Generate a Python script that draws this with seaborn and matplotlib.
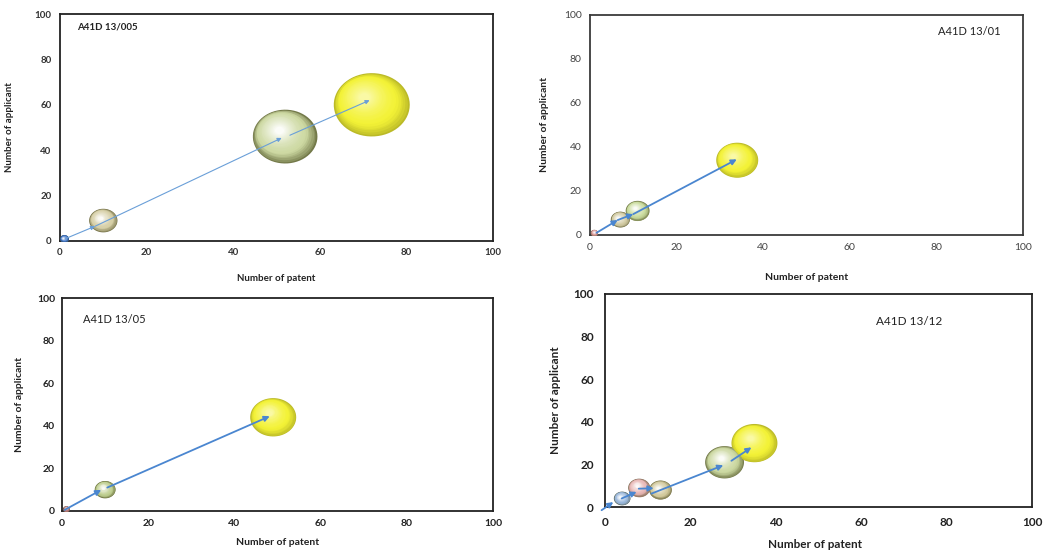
import numpy as np
import matplotlib
matplotlib.use("Agg")
import matplotlib.pyplot as plt
import seaborn as sns
import matplotlib.colors as mcolors
from matplotlib.path import Path
from matplotlib.transforms import ScaledTranslation

# ---------------- data ----------------
titles = ["A41D 13/005", "A41D 13/01", "A41D 13/05", "A41D 13/12"]
x_ticks = [0, 20, 40, 60, 80, 100]
y_ticks = [0, 20, 40, 60, 80, 100]
x_label = "Number of patent"
y_label = "Number of applicant"

# panel 1 : A41D 13/005
p1_patent = [1, 10, 52, 72]
p1_applicant = [1, 9, 46, 60]
p1_bubble = [1, 10, 52, 72]
p1_colors = ["#3f74c8", "#d6cfa6", "#cdd9a2", "#f3f236"]
p1_arrow_x0 = [1.2, 8.1, 53.1]
p1_arrow_y0 = [1.0, 6.5, 46.6]
p1_arrow_x1 = [8.1, 51.2, 71.5]
p1_arrow_y1 = [6.5, 45.4, 62.0]

# panel 2 : A41D 13/01
p2_patent = [1, 7, 11, 34]
p2_applicant = [1, 7, 11, 34]
p2_bubble = [1, 7, 11, 34]
p2_colors = ["#dc9a99", "#d3cca4", "#cadc9e", "#f3f236"]
p2_arrow_x0 = [1.5, 6.4, 10.0]
p2_arrow_y0 = [1.0, 6.8, 9.5]
p2_arrow_x1 = [6.4, 10.0, 33.9]
p2_arrow_y1 = [6.8, 9.5, 34.4]

# panel 3 : A41D 13/05
p3_patent = [1, 10, 49]
p3_applicant = [1, 10, 44]
p3_bubble = [1, 10, 49]
p3_colors = ["#b87a7a", "#bfcf90", "#f3f236"]
p3_arrow_x0 = [0.6, 10.5]
p3_arrow_y0 = [0.5, 11.0]
p3_arrow_x1 = [9.1, 48.2]
p3_arrow_y1 = [9.9, 44.5]

# panel 4 : A41D 13/12
p4_patent = [4, 8, 13, 28, 35]
p4_applicant = [4, 9, 8, 21, 30]
p4_bubble = [4.5, 8, 8.5, 25, 35]
p4_colors = ["#9ab8dc", "#e8b6b5", "#d2c99c", "#cbd8a0", "#f3f236"]
p4_arrow_x0 = [-0.8, 3.9, 7.9, 10.9, 29.6]
p4_arrow_y0 = [-1.5, 4.0, 8.6, 6.3, 21.7]
p4_arrow_x1 = [1.95, 7.4, 11.4, 27.7, 34.3]
p4_arrow_y1 = [2.3, 7.1, 8.8, 19.6, 28.0]

# ---------------- style ----------------
sns.set_style("white")
plt.rcParams["font.family"] = ["Lato", "DejaVu Sans"]

W, H = 1048, 552
fig = plt.figure(figsize=(W / 100, H / 100), dpi=100)


def frac(left, top, right, bottom):
    return [left / W, 1 - bottom / H, (right - left) / W, (bottom - top) / H]


panels = [
    dict(rect=frac(60, 14, 493, 241), x=p1_patent, y=p1_applicant, b=p1_bubble,
         c=p1_colors, ax0=p1_arrow_x0, ay0=p1_arrow_y0, ax1=p1_arrow_x1, ay1=p1_arrow_y1,
         k=41.6, alw=0.8, acol="#6a9fd8", ms=6,
         tick_fs=7, tick_w="bold", tick_c="#333333", lab_fs=7, lab_w="bold",
         xl=(0.5, -0.163), yl=(-0.1155, 0.5), title_xy=(0.039, 0.943), title_fs=7,
         title_w="bold", xpad=5, ypad=6, spine="#222222"),
    dict(rect=frac(590, 15, 1023, 235), x=p2_patent, y=p2_applicant, b=p2_bubble,
         c=p2_colors, ax0=p2_arrow_x0, ay0=p2_arrow_y0, ax1=p2_arrow_x1, ay1=p2_arrow_y1,
         k=26.9, alw=1.3, acol="#4a86d0", ms=8,
         tick_fs=7.5, tick_w="normal", tick_c="#444444", lab_fs=7.5, lab_w="bold",
         xl=(0.5, -0.191), yl=(-0.106, 0.5), title_xy=(0.803, 0.923), title_fs=8,
         title_w="normal", xpad=6, ypad=6, spine="#3a3a3a"),
    dict(rect=frac(62, 298, 493, 511), x=p3_patent, y=p3_applicant, b=p3_bubble,
         c=p3_colors, ax0=p3_arrow_x0, ay0=p3_arrow_y0, ax1=p3_arrow_x1, ay1=p3_arrow_y1,
         k=22.4, alw=1.3, acol="#4a86d0", ms=8,
         tick_fs=7.5, tick_w="bold", tick_c="#222222", lab_fs=7.5, lab_w="bold",
         xl=(0.5, -0.146), yl=(-0.0975, 0.5), title_xy=(0.049, 0.901), title_fs=8,
         title_w="normal", xpad=6, ypad=5, spine="#222222"),
    dict(rect=frac(605, 294, 1032, 507), x=p4_patent, y=p4_applicant, b=p4_bubble,
         c=p4_colors, ax0=p4_arrow_x0, ay0=p4_arrow_y0, ax1=p4_arrow_x1, ay1=p4_arrow_y1,
         k=31.3, alw=1.3, acol="#4a86d0", ms=8,
         tick_fs=8.5, tick_w="bold", tick_c="#222222", lab_fs=8.5, lab_w="bold",
         xl=(0.492, -0.178), yl=(-0.117, 0.5), title_xy=(0.635, 0.869), title_fs=8.5,
         title_w="normal", xpad=7, ypad=8, spine="#222222"),
]

# elliptical marker (bubbles are slightly stretched horizontally)
theta = np.linspace(0, 2 * np.pi, 64)
ell_marker = Path(np.column_stack([1.2 * np.cos(theta), np.sin(theta)]), closed=True)
ASPECT = 1.2


def blend(c1, c2, t):
    a = np.array(mcolors.to_rgb(c1))
    b = np.array(mcolors.to_rgb(c2))
    return tuple(np.clip(a + (b - a) * t, 0, 1))


def shade_params(color):
    r, g, b = mcolors.to_rgb(color)
    if r > 0.9 and g > 0.9 and b < 0.4:   # bright yellow
        return 0.28, 0.55
    return 0.55, 0.92


def shade_sphere(ax, x, y, s, color):
    base = mcolors.to_rgb(color)
    dk, lt = shade_params(color)
    dark = blend(base, "#2a2a00", dk)
    light = blend(base, "#ffffff", lt)
    wpt = np.sqrt(s)
    hpt = wpt / ASPECT
    n = 22
    ux, uy = -0.62, 0.78
    for i in range(1, n):
        t = i / (n - 1)
        f = 1 - 0.86 * t
        if t < 0.26:
            col = blend(dark, base, (t / 0.26) ** 0.8)
        else:
            col = blend(base, light, ((t - 0.26) / 0.74) ** 1.3)
        g = 0.92 - 0.55 * t
        d = (1 - f) * g
        dx = ux * d * wpt * 0.5
        dy = uy * d * hpt * 0.5
        tr = ax.transData + ScaledTranslation(dx / 72, dy / 72, fig.dpi_scale_trans)
        ax.scatter([x], [y], s=s * f * f, color=[col], marker=ell_marker,
                   linewidths=0, transform=tr, zorder=3 + i * 0.01)


for i, p in enumerate(panels):
    ax = fig.add_axes(p["rect"])
    sizes = [p["k"] * v for v in p["b"]]
    names = [f"b{j}" for j in range(len(p["x"]))]
    pal = {n: blend(c, "#2a2a00", shade_params(c)[0]) for n, c in zip(names, p["c"])}
    sns.scatterplot(x=p["x"], y=p["y"], hue=names, palette=pal, s=sizes,
                    marker=ell_marker, edgecolor="none", linewidth=0,
                    legend=False, ax=ax, zorder=3)
    for xv, yv, sv, cv in zip(p["x"], p["y"], sizes, p["c"]):
        shade_sphere(ax, xv, yv, sv, cv)

    for x0, y0, x1, y1 in zip(p["ax0"], p["ay0"], p["ax1"], p["ay1"]):
        ax.annotate("", xy=(x1, y1), xytext=(x0, y0), xycoords="data",
                    arrowprops=dict(arrowstyle="-|>", color=p["acol"], lw=p["alw"],
                                    mutation_scale=p["ms"], shrinkA=0, shrinkB=0),
                    zorder=10, annotation_clip=False)

    ax.set_xlim(0, 100)
    ax.set_ylim(0, 100)
    ax.set_xticks(x_ticks)
    ax.set_yticks(y_ticks)
    ax.set_xticklabels([str(v) for v in x_ticks])
    ax.set_yticklabels([str(v) for v in y_ticks])
    ax.tick_params(axis="both", direction="in", length=3, width=0.8,
                   color="#777777", labelsize=p["tick_fs"], labelcolor=p["tick_c"])
    ax.tick_params(axis="x", pad=p["xpad"])
    ax.tick_params(axis="y", pad=p["ypad"])
    for lab in ax.get_xticklabels() + ax.get_yticklabels():
        lab.set_fontweight(p["tick_w"])
    for sp in ax.spines.values():
        sp.set_visible(True)
        sp.set_color(p["spine"])
        sp.set_linewidth(1.3)

    ax.set_xlabel(x_label, fontsize=p["lab_fs"], fontweight=p["lab_w"], color="#222222")
    ax.set_ylabel(y_label, fontsize=p["lab_fs"], fontweight=p["lab_w"], color="#222222")
    ax.xaxis.label.set_va("center")
    ax.yaxis.label.set_va("center")
    ax.xaxis.set_label_coords(*p["xl"])
    ax.yaxis.set_label_coords(*p["yl"])

    ax.text(p["title_xy"][0], p["title_xy"][1], titles[i], transform=ax.transAxes,
            ha="left", va="center", fontsize=p["title_fs"], fontweight=p["title_w"],
            color="#222222")

fig.savefig("out.png", dpi=100)
